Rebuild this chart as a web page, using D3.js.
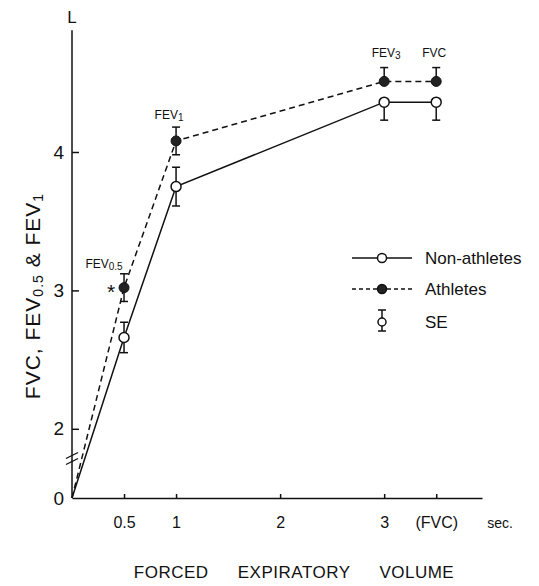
<!DOCTYPE html>
<html>
<head>
<meta charset="utf-8">
<script src="https://cdn.jsdelivr.net/npm/d3@7"></script>
<style>
  body { margin: 0; background: #fff; }
  svg { font-family: "Liberation Sans", Arial, sans-serif; }
  .axis path, .axis line { stroke: #111; stroke-width: 1.5; }
  .axis text { fill: #111; }
</style>
</head>
<body>
<script>
// time points (sec); FVC is drawn at 3.5
const times = [0, 0.5, 1, 3, 3.5];
const xTickValues = [0.5, 1, 2, 3, 3.5];
const xTickLabels = ["0.5", "1", "2", "3", "(FVC)"];
const yTickValues = [0, 2, 3, 4];

const nonAthletes = [0, 2.66, 3.75, 4.36, 4.36];
const athletes = [0, 3.02, 4.08, 4.51, 4.51];
const nonAthletesSE = [0, 0.11, 0.14, 0.13, 0.13];
const athletesSE = [0, 0.10, 0.10, 0.10, 0.10];
// which side of the bar is shown
const nonAthletesSide = ["", "both", "both", "down", "down"];
const athletesSide = ["", "both", "both", "up", "up"];

const pointLabels = [
   { t: 0.5, v: 3.02, main: "FEV", sub: "0.5", dx: -20, dy: -20 },
   { t: 1, v: 4.08, main: "FEV", sub: "1", dx: -7, dy: -22 },
   { t: 3, v: 4.51, main: "FEV", sub: "3", dx: 2, dy: -24 },
   { t: 3.5, v: 4.51, main: "FVC", sub: "", dx: -2, dy: -24 }
];

const svg = d3.select("body").append("svg")
   .attr("width", 539)
   .attr("height", 586);

const x = d3.scaleLinear()
   .domain([0, 3.94])
   .range([72, 482]);

// broken axis: 0..1.5 collapsed onto the origin
const y = d3.scaleLinear()
   .domain([0, 1.5, 4])
   .range([498, 498, 152]);

// x axis
const xAxis = svg.append("g")
   .attr("class", "axis")
   .attr("transform", "translate(0," + y(0) + ")")
   .call(d3.axisBottom(x)
      .tickValues(xTickValues)
      .tickFormat((d, i) => xTickLabels[i])
      .tickSizeInner(-4)
      .tickSizeOuter(0)
      .tickPadding(19));
xAxis.selectAll("text").style("font-size", "16px");

svg.append("text")
   .attr("x", 500)
   .attr("y", 528)
   .attr("text-anchor", "middle")
   .style("font-size", "14px")
   .attr("fill", "#111")
   .text("sec.");

// y axis
const yAxis = svg.append("g")
   .attr("class", "axis")
   .attr("transform", "translate(" + x(0) + ",0)")
   .call(d3.axisLeft(y)
      .tickValues(yTickValues)
      .tickFormat(d3.format("d"))
      .tickSizeInner(-7)
      .tickSizeOuter(0)
      .tickPadding(8));
yAxis.select(".domain").remove();
yAxis.selectAll("text").style("font-size", "19px");
yAxis.selectAll(".tick").filter(d => d === 0).select("line").remove();

svg.append("line")
   .attr("x1", x(0)).attr("x2", x(0))
   .attr("y1", y(0)).attr("y2", y(4.88))
   .attr("stroke", "#111")
   .attr("stroke-width", 1.5);

// axis break marks
[0, 6].forEach(off => {
   svg.append("line")
      .attr("x1", x(0) - 6).attr("x2", x(0) + 6)
      .attr("y1", y(1.8) + off + 2).attr("y2", y(1.8) + off - 4)
      .attr("stroke", "#111")
      .attr("stroke-width", 1.3);
});

svg.append("text")
   .attr("x", x(0))
   .attr("y", 23)
   .attr("text-anchor", "middle")
   .style("font-size", "17px")
   .attr("fill", "#111")
   .text("L");

// y label
const yLabel = svg.append("text")
   .attr("transform", "translate(40,296) rotate(-90)")
   .attr("text-anchor", "middle")
   .style("font-size", "21px")
   .style("letter-spacing", "1px")
   .attr("fill", "#111");
yLabel.append("tspan").text("FVC, FEV");
yLabel.append("tspan").style("font-size", "14px").attr("baseline-shift", "-3").text("0.5");
yLabel.append("tspan").text(" & FEV");
yLabel.append("tspan").style("font-size", "14px").attr("baseline-shift", "-3").text("1");

// x label
svg.append("text")
   .attr("x", 294)
   .attr("y", 578)
   .attr("text-anchor", "middle")
   .style("font-size", "17px")
   .style("letter-spacing", "0.5px")
   .style("word-spacing", "24px")
   .attr("fill", "#111")
   .text("FORCED EXPIRATORY VOLUME");

// lines
const line = d3.line()
   .x((d, i) => x(times[i]))
   .y(d => y(d));

svg.append("path")
   .datum(nonAthletes)
   .attr("d", line)
   .attr("fill", "none")
   .attr("stroke", "#111")
   .attr("stroke-width", 1.5);

svg.append("path")
   .datum(athletes)
   .attr("d", line)
   .attr("fill", "none")
   .attr("stroke", "#111")
   .attr("stroke-width", 1.5)
   .attr("stroke-dasharray", "6,4");

// error bars
function errorBars(values, se, side) {
   const g = svg.append("g");
   values.forEach((v, i) => {
      if (!side[i]) return;
      const cx = x(times[i]);
      const top = side[i] === "down" ? v : v + se[i];
      const bottom = side[i] === "up" ? v : v - se[i];
      g.append("line")
         .attr("x1", cx).attr("x2", cx)
         .attr("y1", y(top)).attr("y2", y(bottom))
         .attr("stroke", "#111").attr("stroke-width", 1.5);
      if (side[i] !== "down") {
         g.append("line")
            .attr("x1", cx - 4).attr("x2", cx + 4)
            .attr("y1", y(top)).attr("y2", y(top))
            .attr("stroke", "#111").attr("stroke-width", 1.5);
      }
      if (side[i] !== "up") {
         g.append("line")
            .attr("x1", cx - 4).attr("x2", cx + 4)
            .attr("y1", y(bottom)).attr("y2", y(bottom))
            .attr("stroke", "#111").attr("stroke-width", 1.5);
      }
   });
}
errorBars(nonAthletes, nonAthletesSE, nonAthletesSide);
errorBars(athletes, athletesSE, athletesSide);

// markers
svg.append("g").selectAll("circle")
   .data(nonAthletes.slice(1))
   .enter().append("circle")
   .attr("cx", (d, i) => x(times[i + 1]))
   .attr("cy", d => y(d))
   .attr("r", 5)
   .attr("fill", "#fff")
   .attr("stroke", "#111")
   .attr("stroke-width", 1.5);

svg.append("g").selectAll("circle")
   .data(athletes.slice(1))
   .enter().append("circle")
   .attr("cx", (d, i) => x(times[i + 1]))
   .attr("cy", d => y(d))
   .attr("r", 5)
   .attr("fill", "#222")
   .attr("stroke", "#111")
   .attr("stroke-width", 1);

// point labels
pointLabels.forEach(p => {
   const t = svg.append("text")
      .attr("x", x(p.t) + p.dx)
      .attr("y", y(p.v) + p.dy)
      .attr("text-anchor", "middle")
      .style("font-size", "12px")
      .attr("fill", "#111");
   t.append("tspan").text(p.main);
   if (p.sub) t.append("tspan").style("font-size", "10px").attr("dy", 2).text(p.sub);
});

svg.append("text")
   .attr("x", x(0.5) - 13)
   .attr("y", y(3.02) + 11)
   .attr("text-anchor", "middle")
   .style("font-size", "21px")
   .attr("fill", "#111")
   .text("*");

// legend
const legendItems = [
   { label: "Non-athletes", dash: null, fill: "#fff" },
   { label: "Athletes", dash: "4,3", fill: "#222" }
];
const legend = svg.append("g").attr("transform", "translate(352,258)");
legendItems.forEach((d, i) => {
   const row = legend.append("g").attr("transform", "translate(0," + i * 31 + ")");
   row.append("line")
      .attr("x1", 0).attr("x2", 60)
      .attr("stroke", "#111").attr("stroke-width", 1.5)
      .attr("stroke-dasharray", d.dash);
   row.append("circle")
      .attr("cx", 30).attr("r", 4.5)
      .attr("fill", d.fill).attr("stroke", "#111").attr("stroke-width", 1.5);
   row.append("text")
      .attr("x", 73).attr("y", 6)
      .style("font-size", "17px")
      .attr("fill", "#111")
      .text(d.label);
});
const se = legend.append("g").attr("transform", "translate(30,64)");
se.append("line").attr("y1", -12).attr("y2", 9).attr("stroke", "#111").attr("stroke-width", 1.5);
se.append("line").attr("x1", -4).attr("x2", 4).attr("y1", -12).attr("y2", -12).attr("stroke", "#111").attr("stroke-width", 1.5);
se.append("line").attr("x1", -4).attr("x2", 4).attr("y1", 9).attr("y2", 9).attr("stroke", "#111").attr("stroke-width", 1.5);
se.append("circle").attr("r", 4).attr("fill", "#fff").attr("stroke", "#111").attr("stroke-width", 1.5);
se.append("text").attr("x", 43).attr("y", 6).style("font-size", "17px").attr("fill", "#111").text("SE");
</script>
</body>
</html>
